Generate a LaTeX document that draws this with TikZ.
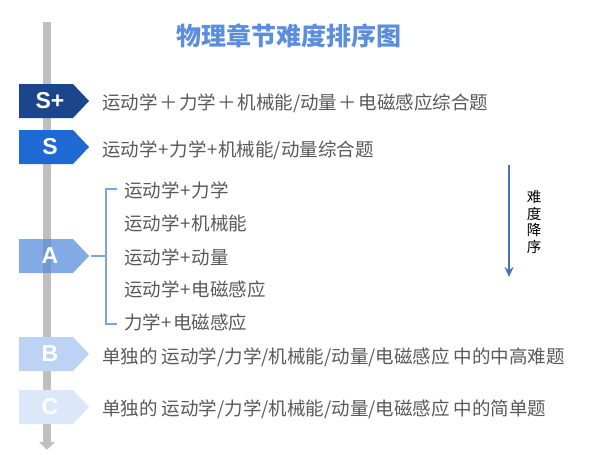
\documentclass[tikz,border=0pt]{standalone}
\usepackage{fontspec}
\setmainfont{Liberation Sans}
\newfontfamily\cjk{Noto Sans CJK SC}
\usetikzlibrary{arrows.meta}

\definecolor{barcol}{HTML}{BFBFBF}
\definecolor{titlecol}{HTML}{5B8EDC}
\definecolor{txtcol}{HTML}{595959}
\definecolor{splus}{HTML}{1B468C}
\definecolor{scol}{HTML}{1F69D4}
\definecolor{acol}{HTML}{528BDB}
\definecolor{bcol}{HTML}{BCD3F5}
\definecolor{ccol}{HTML}{DCE8F9}
\definecolor{brcol}{HTML}{7BA3E6}
\definecolor{arrcol}{HTML}{4A72B8}

\newcommand{\wplus}{\kern1.5pt＋\kern1.5pt}
\newcommand{\nplus}{\kern0.8pt+\kern0.8pt}

\tikzset{
  badge/.style={font=\fontsize{23}{23}\selectfont\bfseries, text=white, inner sep=0pt},
  item/.style={anchor=west, font=\cjk\fontsize{18.5}{20}\selectfont, text=txtcol, inner sep=0pt},
}

\begin{document}
\begin{tikzpicture}[x=1pt,y=-1pt]
	\useasboundingbox (0,0) rectangle (606,455);

	% time line
	\draw [line width=8pt, barcol, -{Triangle[width=15pt,length=8pt]}] (47,22) -- (47,450);

	\node (title) at (289,36) {\cjk\fontsize{25}{25}\selectfont\bfseries\color{titlecol}物理章节难度排序图};

	% badges
	\fill [splus] (19,84) -- (73,84) -- (89,101) -- (73,118) -- (19,118) -- cycle;
	\fill [scol] (19,130) -- (73,130) -- (89,147) -- (73,164) -- (19,164) -- cycle;
	\fill [acol, fill opacity=0.72] (19,239) -- (73,239) -- (89,256) -- (73,273) -- (19,273) -- cycle;
	\fill [bcol] (19,337) -- (73,337) -- (89,354) -- (73,371) -- (19,371) -- cycle;
	\fill [ccol] (19,390) -- (73,390) -- (89,407) -- (73,424) -- (19,424) -- cycle;

	\node [badge] (lsplus) at (50,101) {S+};
	\node [badge] (ls) at (50,147) {S};
	\node [badge] (la) at (50,256) {A};
	\node [badge] (lb) at (50,354) {B};
	\node [badge] (lc) at (50,407) {C};

	% rows
	\node [item] (rsplus) at (102,103) {运动学\wplus 力学\wplus 机械能/动量\wplus 电磁感应综合题};
	\node [item] (rs) at (102,150) {运动学\nplus 力学\nplus 机械能/动量综合题};
	\node [item] (ra1) at (124,190) {运动学\nplus 力学};
	\node [item] (ra2) at (124,223) {运动学\nplus 机械能};
	\node [item] (ra3) at (124,257) {运动学\nplus 动量};
	\node [item] (ra4) at (124,289) {运动学\nplus 电磁感应};
	\node [item] (ra5) at (124,322) {力学\nplus 电磁感应};
	\node [item] (rb) at (102,357) {单独的 运动学/力学/机械能/动量/电磁感应 中的中高难题};
	\node [item] (rc) at (102,409) {单独的 运动学/力学/机械能/动量/电磁感应 中的简单题};

	% bracket of A
	\coordinate (atip) at (91,256);
	\coordinate (brtop) at (117,189);
	\coordinate (brbot) at (117,324);
	\draw [brcol, line width=1.5pt] (atip) -- (106,256);
	\draw [brcol, line width=1.5pt] (brtop) -- (106,189) -- (106,324) -- (brbot);

	% order arrow
	\coordinate (ordtop) at (509,165);
	\coordinate (ordbot) at (509,277);
	\draw [arrcol, line width=2pt, -{Stealth[width=9pt,length=10pt]}] (ordtop) -- (ordbot);
	\node [align=center, inner sep=0pt, font=\cjk\fontsize{14.5}{16.5}\selectfont] (ordtxt) at (534,222) {难\\度\\降\\序};
\end{tikzpicture}
\end{document}
